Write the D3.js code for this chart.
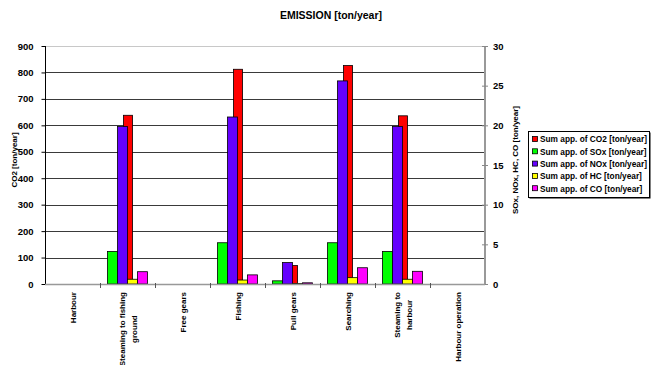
<!DOCTYPE html>
<html>
<head>
<meta charset="utf-8">
<script src="https://cdn.jsdelivr.net/npm/d3@7"></script>
<style>
  html, body { margin: 0; padding: 0; background: #fff; }
  svg text { font-family: "Liberation Sans", Arial, sans-serif; font-weight: bold; fill: #000; }
</style>
</head>
<body>
<svg id="chart" width="658" height="365"></svg>
<script>
// Operation phases along the x axis (label lines split where the label wraps)
const categories = ["Harbour", "Steaming to fishing ground", "Free gears", "Fishing",
                    "Pull gears", "Searching", "Steaming to harbour", "Harbour operation"];
const categoryLines = [["Harbour"], ["Steaming to fishing", "ground"], ["Free gears"], ["Fishing"],
                       ["Pull gears"], ["Searching"], ["Steaming to", "harbour"], ["Harbour operation"]];

// CO2 on the left axis [ton/year]
const co2 = [0, 638, 0, 812, 70, 826, 636, 0];
// Other pollutants on the right axis [ton/year]
const sox = [0, 4.1, 0, 5.2, 0.4, 5.2, 4.1, 0];
const nox = [0, 19.85, 0, 21.05, 2.7, 25.6, 19.85, 0];
const hc  = [0, 0.6, 0, 0.5, 0.05, 0.8, 0.6, 0];
const co  = [0, 1.55, 0, 1.15, 0.15, 2.05, 1.6, 0];

const leftTicks = [0, 100, 200, 300, 400, 500, 600, 700, 800, 900];
const rightTicks = [0, 5, 10, 15, 20, 25, 30];

const seriesNames = ["Sum app. of CO2 [ton/year]", "Sum app. of SOx [ton/year]",
                     "Sum app. of NOx [ton/year]", "Sum app. of HC [ton/year]",
                     "Sum app. of CO [ton/year]"];
const seriesColors = ["#ff0000", "#00ff00", "#6600ff", "#ffff00", "#ff00ff"];

const svg = d3.select("#chart");
const plot = { left: 45, right: 485, top: 46, bottom: 284 };

const x = d3.scaleBand().domain(categories).range([plot.left, plot.right]).padding(0);
const yL = d3.scaleLinear().domain([0, 900]).range([plot.bottom, plot.top]);
const yR = d3.scaleLinear().domain([0, 30]).range([plot.bottom, plot.top]);

// Secondary series share each category band: 4 bars, gap width 150%
const secondary = [
  { name: "SOx", values: sox, color: seriesColors[1] },
  { name: "NOx", values: nox, color: seriesColors[2] },
  { name: "HC",  values: hc,  color: seriesColors[3] },
  { name: "CO",  values: co,  color: seriesColors[4] }
];
const bw = x.bandwidth();
const inner = d3.scaleBand().domain(secondary.map(s => s.name))
  .range([bw * 0.75 / 5.5, bw - bw * 0.75 / 5.5]).padding(0);
const co2Width = bw / 6;

// Title
svg.append("text").attr("x", 331).attr("y", 19).attr("text-anchor", "middle")
  .style("font-size", "10.5px").text("EMISSION [ton/year]");

// Gridlines (every left-axis tick)
svg.append("g").selectAll("line").data(leftTicks.filter(t => t > 0 && t < 900)).join("line")
  .attr("x1", plot.left).attr("x2", plot.right)
  .attr("y1", d => Math.round(yL(d)) + 0.5).attr("y2", d => Math.round(yL(d)) + 0.5)
  .attr("stroke", "#3a3a3a").attr("stroke-width", 1);
// Top border of the plot area
svg.append("line").attr("x1", plot.left).attr("x2", plot.right)
  .attr("y1", Math.round(yL(900)) + 0.5).attr("y2", Math.round(yL(900)) + 0.5)
  .attr("stroke", "#c8c8c8");

// CO2 bars (primary axis, drawn behind)
svg.append("g").selectAll("rect").data(categories.map((c, i) => ({ c, v: co2[i] })).filter(d => d.v > 0))
  .join("rect")
  .attr("x", d => x(d.c) + bw / 2 - co2Width / 2 + 0.5)
  .attr("y", d => yL(d.v))
  .attr("width", co2Width)
  .attr("height", d => plot.bottom - yL(d.v))
  .attr("fill", seriesColors[0]).attr("stroke", "#000").attr("stroke-width", 0.8);

// Secondary-axis bars
secondary.forEach(s => {
  svg.append("g").selectAll("rect").data(categories.map((c, i) => ({ c, v: s.values[i] })).filter(d => d.v > 0))
    .join("rect")
    .attr("x", d => x(d.c) + inner(s.name))
    .attr("y", d => yR(d.v))
    .attr("width", inner.bandwidth())
    .attr("height", d => plot.bottom - yR(d.v))
    .attr("fill", s.color).attr("stroke", "#000").attr("stroke-width", 0.8);
});

// Left axis
const gL = svg.append("g").attr("transform", `translate(${plot.left + 0.5},0)`);
gL.call(d3.axisLeft(yL).tickValues(leftTicks).tickSize(4).tickPadding(8));
gL.select(".domain").attr("stroke", "#000").attr("d", `M0,${plot.top}V${plot.bottom}`);
gL.selectAll(".tick line").attr("stroke", "#000");
gL.selectAll(".tick text").style("font-size", "9.5px").style("font-family", null);

// Right axis
const gR = svg.append("g").attr("transform", `translate(${plot.right},0)`);
gR.call(d3.axisRight(yR).tickValues(rightTicks).tickSize(3).tickPadding(5));
gR.select(".domain").attr("stroke", "#999").attr("stroke-width", 2).attr("d", `M0,${plot.top}V${plot.bottom}`);
gR.selectAll(".tick line").attr("stroke", "#888").attr("x1", -3);
gR.selectAll(".tick text").style("font-size", "9.5px").style("font-family", null);

// Category axis
svg.append("line").attr("x1", plot.left).attr("x2", plot.right)
  .attr("y1", plot.bottom + 0.5).attr("y2", plot.bottom + 0.5)
  .attr("stroke", "#999").attr("stroke-width", 1.5);
svg.append("g").selectAll("line").data(categories.slice(1)).join("line")
  .attr("x1", d => Math.round(x(d)) + 0.5).attr("x2", d => Math.round(x(d)) + 0.5)
  .attr("y1", plot.bottom - 1).attr("y2", plot.bottom + 4)
  .attr("stroke", "#555");

// Category labels, rotated, block anchored to the axis
const labelTop = 292;
const lineGap = 12;
categories.forEach((c, i) => {
  const lines = categoryLines[i];
  const cx = x(c) + bw / 2;
  const g = svg.append("g");
  const texts = lines.map(ln => g.append("text")
    .attr("text-anchor", "middle").style("font-size", "8px").text(ln));
  const maxW = d3.max(texts, t => t.node().getComputedTextLength());
  texts.forEach((t, j) => {
    const lx = cx + (j - (lines.length - 1) / 2) * lineGap + 3;
    const ly = labelTop + maxW / 2;
    t.attr("transform", `translate(${lx},${ly}) rotate(-90)`);
  });
});

// Axis titles
svg.append("text").attr("transform", "translate(17,160) rotate(-90)")
  .attr("text-anchor", "middle").style("font-size", "8px").text("CO2 [ton/year]");
svg.append("text").attr("transform", "translate(518,160) rotate(-90)")
  .attr("text-anchor", "middle").style("font-size", "8px").text("SOx, NOx, HC, CO [ton/year]");

// Legend
const lg = svg.append("g").attr("transform", "translate(528,131)");
lg.append("rect").attr("x", 1.5).attr("y", 1.5).attr("width", 121).attr("height", 66).attr("fill", "#000");
lg.append("rect").attr("x", 0.5).attr("y", 0.5).attr("width", 121).attr("height", 66)
  .attr("fill", "#fff").attr("stroke", "#000");
seriesNames.forEach((n, i) => {
  const yy = 8.5 + i * 12.3;
  lg.append("rect").attr("x", 4.5).attr("y", yy - 3).attr("width", 5).attr("height", 5)
    .attr("fill", seriesColors[i]).attr("stroke", "#000").attr("stroke-width", 0.8);
  lg.append("text").attr("x", 12).attr("y", yy + 2.8).style("font-size", "8.3px").text(n);
});
</script>
</body>
</html>
